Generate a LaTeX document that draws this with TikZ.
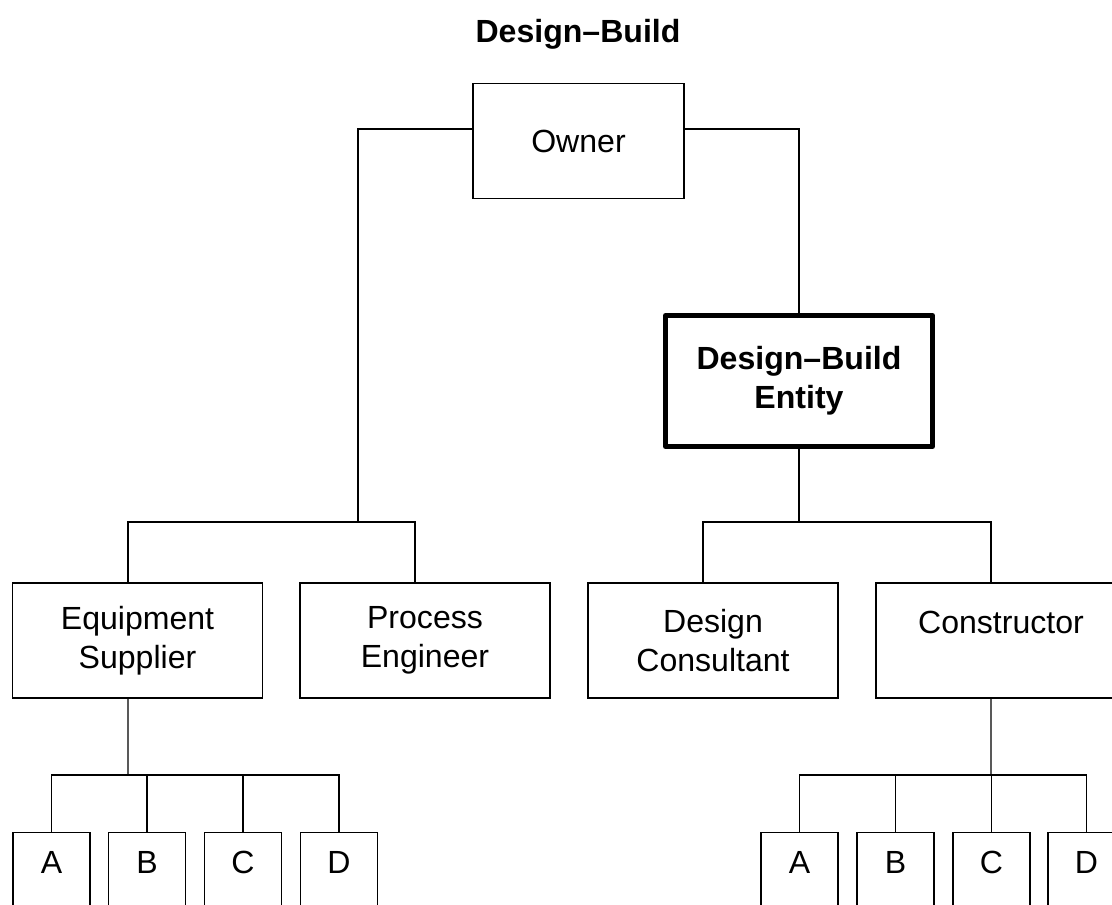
\documentclass[tikz,border=0pt]{standalone}
\usepackage{fontspec}
\setmainfont{Liberation Sans}
\begin{document}
\begin{tikzpicture}[x=0.25mm,y=-0.25mm,
  every node/.style={font=\fontsize{22.8}{27.7}\selectfont},
  orgbox/.style={draw,line width=0.9pt,inner sep=0pt,minimum width=62.5mm,minimum height=28.75mm,align=center},
  entitybox/.style={draw,line width=3.5pt,line join=round,inner sep=0pt,minimum width=66.75mm,minimum height=32.75mm,align=center,font=\fontsize{22.8}{27.7}\selectfont\bfseries},
  subbox/.style={draw,line width=0.9pt,inner sep=0pt,minimum width=19.25mm,text height=10.25mm,text depth=20mm,anchor=north},
  link/.style={line width=0.9pt}]
  \clip (0,0) rectangle (1112,904);

  \node (title) [anchor=base,font=\fontsize{22.8}{27.7}\selectfont\bfseries] at (578,42) {Design--Build};

  \node (owner) [orgbox,minimum width=52.75mm] at (578.5,141) {Owner};
  \node (dbe) [entitybox] at (799,381) {Design--Build\\Entity};

  \node (equip) [orgbox] at (137.5,640.5) {Equipment\\Supplier};
  \node (proc) [orgbox] at (425,640.5) {Process\\Engineer};
  \node (cons) [orgbox] at (713,640.5) {Design\\Consultant};
  \node (ctor) [orgbox,text height=12.5mm,text depth=16.25mm] at (1001,640.5) {Constructor};

  \node (la) [subbox] at (51.5,832) {A};
  \node (lb) [subbox] at (147,832) {B};
  \node (lc) [subbox] at (243,832) {C};
  \node (ld) [subbox] at (339,832) {D};

  \node (ra) [subbox] at (799.5,832) {A};
  \node (rb) [subbox] at (895.5,832) {B};
  \node (rc) [subbox] at (991.5,832) {C};
  \node (rd) [subbox] at (1086.5,832) {D};

  \coordinate (lbar) at (358,522);
  \coordinate (rbar) at (799,522);
  \coordinate (lsub) at (128,775);
  \coordinate (rsub) at (991,775);

  \draw[link] ([yshift=3mm]owner.west) -| (lbar);
  \draw[link] ([yshift=3mm]owner.east) -| (dbe.north);
  \draw[link] ([xshift=-2.4mm]equip.north) |- (lbar) -| ([xshift=-2.5mm]proc.north);
  \draw[link] (dbe.south) -- (rbar);
  \draw[link] ([xshift=-2.5mm]cons.north) |- (rbar) -| ([xshift=-2.5mm]ctor.north);

  \draw[link] ([xshift=-2.4mm]equip.south) -- (lsub);
  \draw[link] (la.north) |- (lsub) -| (ld.north);
  \draw[link] (lb.north) -- (lb.north |- lsub);
  \draw[link] (lc.north) -- (lc.north |- lsub);

  \draw[link] ([xshift=-2.5mm]ctor.south) -- (rsub);
  \draw[link] (ra.north) |- (rsub) -| (rd.north);
  \draw[link] (rb.north) -- (rb.north |- rsub);
  \draw[link] (rc.north) -- (rc.north |- rsub);
\end{tikzpicture}
\end{document}
